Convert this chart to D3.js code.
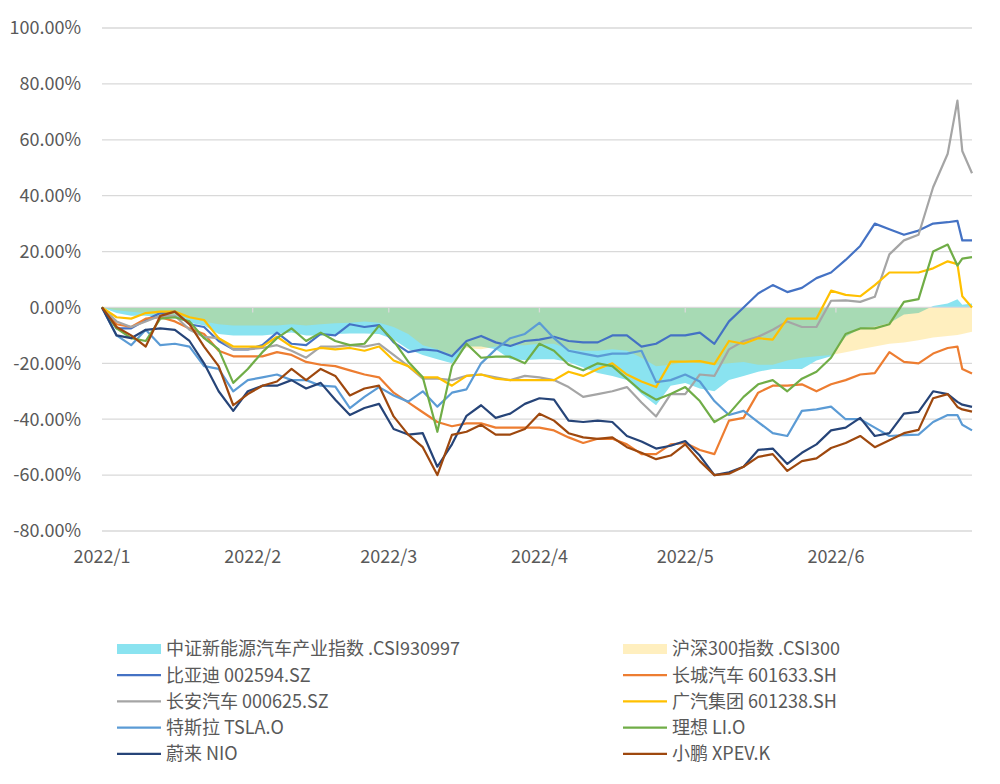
<!DOCTYPE html>
<html>
<head>
<meta charset="utf-8">
<script src="https://cdn.jsdelivr.net/npm/d3@7"></script>
<style>
  body { margin: 0; background: #fff; }
  text { font-family: "Noto Sans CJK SC", "Noto Sans", sans-serif; }
</style>
</head>
<body>
<div id="chart"></div>
<script>
// Sample dates (every ~3 days)
const dates = [
  "2022-01-01","2022-01-04","2022-01-07","2022-01-10","2022-01-13","2022-01-16","2022-01-19","2022-01-22","2022-01-25","2022-01-28","2022-01-31",
  "2022-02-03","2022-02-06","2022-02-09","2022-02-12","2022-02-15","2022-02-18","2022-02-21","2022-02-24","2022-02-27",
  "2022-03-02","2022-03-05","2022-03-08","2022-03-11","2022-03-14","2022-03-17","2022-03-20","2022-03-23","2022-03-26","2022-03-29",
  "2022-04-01","2022-04-04","2022-04-07","2022-04-10","2022-04-13","2022-04-16","2022-04-19","2022-04-22","2022-04-25","2022-04-28",
  "2022-05-01","2022-05-04","2022-05-07","2022-05-10","2022-05-13","2022-05-16","2022-05-19","2022-05-22","2022-05-25","2022-05-28","2022-05-31",
  "2022-06-03","2022-06-06","2022-06-09","2022-06-12","2022-06-15","2022-06-18","2022-06-21","2022-06-24",
  "2022-06-26","2022-06-27","2022-06-29"
];

// Index series (areas), % change
const csi930997 = [0,-2,-3,-3,-3.5,-4,-5.5,-6.5,-9.5,-10,-10,
  -10,-9.5,-9,-10,-10,-9.5,-9.3,-9.3,-9.5,
  -11.5,-15,-17,-18.5,-20,-14,-14,-15,-18.5,-18.8,
  -18.5,-18.5,-19.5,-21.5,-23.5,-24.5,-26,-31,-35,-28,
  -27,-29,-30,-26,-24.5,-23,-22,-22,-22,-19,-17.5,
  -10.5,-7.5,-6.9,-5.7,-2.5,-2,0.5,1.4,
  2.9,1,1.4];
const csi300 = [0,-1,-1.5,-2,-2.5,-3,-4,-5,-6,-6.5,-6.5,
  -6.5,-6.5,-6,-6.5,-6,-5.7,-5.5,-5,-5.5,
  -7,-9.5,-13.5,-15,-17,-14.5,-15,-14,-13.5,-13.5,
  -13,-13,-15,-15.5,-15.5,-15,-15.5,-18,-21,-20.5,
  -19.5,-20,-20.5,-20,-19.5,-20.5,-20.5,-19,-18,-17.5,-17,
  -16,-15,-14,-13,-12.5,-11.7,-10.8,-10.2,
  -9.9,-9.5,-8.7];

// Stock series (lines), % change
const byd = [0,-7.5,-7.5,-4.5,-2,-1.5,-6,-7,-12,-15,-15,
  -13.5,-9,-13,-13.5,-9.5,-10,-6,-7,-6.3,
  -12.5,-16,-15,-15.5,-17.5,-12,-10.2,-12.5,-13.8,-12,
  -11.5,-10.5,-12,-12.5,-12.5,-10,-10,-14,-13,-10,
  -10,-9,-13,-5,0,5,8,5.5,7,10.5,12.5,
  17,22,30,28,26,27.5,30,30.5,
  31,24,24];
const greatWall = [0,-6,-7,-4,-3.5,-5,-7.5,-9.5,-15.5,-17.5,-17.5,
  -17.5,-16,-17,-19.5,-20.5,-21,-22.5,-24,-25,
  -30.5,-34,-37.5,-41,-42.5,-41.5,-41.5,-43,-43,-43,
  -43,-44,-46.5,-48.5,-47,-47,-49,-52.5,-52.5,-49,
  -48.5,-51,-52.5,-40.5,-39.5,-30.5,-28,-28,-27.5,-30,-27.5,
  -26,-24,-23.5,-16,-19.5,-20,-16.5,-14.5,
  -14,-22,-23.6];
const changan = [0,-5,-7,-5,-3,-3,-8,-10.5,-11,-15,-15,
  -14.5,-13.5,-15.5,-18,-14,-14,-13.5,-14,-13,
  -17,-21,-25.5,-25.5,-26,-24.5,-24,-25,-26,-24.5,
  -25,-26,-28.5,-32,-31,-30,-28.5,-34,-39,-31,
  -31,-24,-24.5,-15,-12,-10.5,-8,-5,-7,-7,2.4,
  2.5,2,3.8,19,24,26,43,55,
  74,56,48];
const gac = [0,-3.5,-4,-2,-1.5,-1.5,-3.5,-4.5,-11,-14,-14,
  -14,-10.5,-14,-15.5,-14.5,-15,-14.5,-15.5,-14,
  -19,-21,-25,-25,-28,-24.5,-24,-25.5,-26,-26,
  -26,-26,-23,-24.5,-22,-20,-24,-26.5,-28.5,-19.4,
  -19.4,-19.2,-20.3,-12,-13,-11,-11.5,-4,-4,-4,6,
  4.5,4,8,12.5,12.5,12.5,14,16.5,
  15.5,4,0];
const tesla = [0,-10,-13.5,-8,-13.5,-13,-14,-21,-22,-30,-26,
  -25,-24,-26,-26,-28,-28.3,-36,-32,-28.5,
  -31.5,-33.7,-30,-35.5,-30.5,-29.3,-20,-15,-11,-9.5,
  -5.5,-11,-15.5,-16.5,-17.5,-16.5,-16.5,-15.5,-26.7,-26,
  -24,-26.5,-33.5,-38.5,-37,-41,-45,-46,-37,-36.5,-35.5,
  -40,-40,-43,-46,-45.7,-45.5,-41,-38.5,
  -38.5,-42,-44];
const liAuto = [0,-7.5,-11,-12,-4,-3.5,-5,-11,-15,-27,-22,
  -16,-11,-7.5,-12,-9,-12,-13.5,-13,-6.5,
  -12,-19.4,-25,-44.5,-21,-13,-18,-17.6,-17.6,-20,
  -13,-15.5,-20.5,-22.5,-20,-21,-25.5,-30,-33,-31,
  -28.5,-33.5,-41,-38,-32,-27.5,-26,-30,-25.5,-23,-18,
  -9.5,-7.5,-7.5,-6,2,3,20,22.5,
  15,17.5,18];
const nio = [0,-10,-11,-8,-7.5,-8,-12,-20,-30,-37,-30,
  -28,-28,-26,-29,-27,-33,-38.5,-36,-34.5,
  -43.5,-45.5,-45,-57,-49,-38.8,-35,-39.5,-38,-34.5,
  -32.5,-33,-40.5,-41,-40.5,-41,-46,-48,-50.5,-49.5,
  -47.8,-53,-60,-59,-57,-51,-50.5,-56,-52,-49,-44,
  -43,-39.5,-46,-45,-38,-37.4,-30,-31,
  -33.8,-34.8,-35.6];
const xpev = [0,-7,-10,-14,-3,-1.5,-6,-14,-21,-35,-31,
  -28,-26.5,-22,-26,-22,-24.5,-31.5,-29,-28,
  -39,-45.5,-50,-60,-45.6,-44.5,-42,-45.5,-45.5,-43.5,
  -38,-40.5,-45,-46.5,-47,-46.5,-50,-52,-54.3,-53,
  -49,-55,-60,-59.5,-57,-53.5,-52.5,-58.5,-55,-54,-50.3,
  -48.5,-46,-50,-47.5,-45,-43.8,-32.5,-31,
  -35.6,-36.5,-37.3];

const yTicks = [100, 80, 60, 40, 20, 0, -20, -40, -60, -80];
const monthTicks = ["2022-01-01","2022-02-01","2022-03-01","2022-04-01","2022-05-01","2022-06-01"];

const areaSeries = [
  { name: "中证新能源汽车产业指数 .CSI930997", values: csi930997, color: "#8ae3f0", opacity: 1 },
  { name: "沪深300指数 .CSI300", values: csi300, color: "#ffc000", opacity: 0.25 }
];
const lineSeries = [
  { name: "比亚迪 002594.SZ", values: byd, color: "#4472c4" },
  { name: "长城汽车 601633.SH", values: greatWall, color: "#ed7d31" },
  { name: "长安汽车 000625.SZ", values: changan, color: "#a5a5a5" },
  { name: "广汽集团 601238.SH", values: gac, color: "#ffc000" },
  { name: "特斯拉 TSLA.O", values: tesla, color: "#5b9bd5" },
  { name: "理想 LI.O", values: liAuto, color: "#70ad47" },
  { name: "蔚来 NIO", values: nio, color: "#264478" },
  { name: "小鹏 XPEV.K", values: xpev, color: "#9e480e" }
];

const W = 1000, H = 784;
const fontSize = '18px';
const parse = d3.timeParse("%Y-%m-%d");
const dateObjs = dates.map(parse);

const svg = d3.select('#chart').append('svg')
  .attr('width', W).attr('height', H);

const x = d3.scaleTime()
  .domain([parse("2022-01-01"), parse("2022-06-29")])
  .range([102, 972]);
const y = d3.scaleLinear()
  .domain([-80, 100])
  .range([531, 28]);

// Gridlines
svg.append('g')
  .selectAll('line')
  .data(yTicks.filter(t => t !== 0))
  .enter().append('line')
  .attr('x1', 102).attr('x2', 972)
  .attr('y1', d => y(d)).attr('y2', d => y(d))
  .attr('stroke', '#d9d9d9').attr('stroke-width', 1.3);

// Y labels
svg.append('g')
  .selectAll('text')
  .data(yTicks)
  .enter().append('text')
  .attr('x', 81)
  .attr('y', d => y(d))
  .attr('dy', '0.35em')
  .attr('text-anchor', 'end')
  .style('font-size', fontSize)
  .style('fill', '#595959')
  .text(d => d.toFixed(2) + '%');

// Areas
areaSeries.forEach(s => {
  const area = d3.area()
    .x((d, i) => x(dateObjs[i]))
    .y0(y(0))
    .y1(d => y(d));
  svg.append('path')
    .datum(s.values)
    .attr('d', area)
    .attr('fill', s.color)
    .attr('fill-opacity', s.opacity);
});

// Zero axis line and month ticks
svg.append('line')
  .attr('x1', 102).attr('x2', 972)
  .attr('y1', y(0)).attr('y2', y(0))
  .attr('stroke', '#d9d9d9').attr('stroke-width', 1.3);
svg.append('g')
  .selectAll('line')
  .data(monthTicks.slice(1).map(parse))
  .enter().append('line')
  .attr('x1', d => x(d)).attr('x2', d => x(d))
  .attr('y1', y(0)).attr('y2', y(0) + 5)
  .attr('stroke', '#d9d9d9').attr('stroke-width', 1.3);

// X labels
svg.append('g')
  .selectAll('text')
  .data(monthTicks)
  .enter().append('text')
  .attr('x', d => x(parse(d)))
  .attr('y', 557)
  .attr('dy', '0.35em')
  .attr('text-anchor', 'middle')
  .style('font-size', fontSize)
  .style('fill', '#595959')
  .text(d => d3.timeFormat('%Y/')(parse(d)) + (parse(d).getMonth() + 1));

// Lines
const line = d3.line()
  .x((d, i) => x(dateObjs[i]))
  .y(d => y(d));
lineSeries.forEach(s => {
  svg.append('path')
    .datum(s.values)
    .attr('d', line)
    .attr('fill', 'none')
    .attr('stroke', s.color)
    .attr('stroke-width', 2.2)
    .attr('stroke-linejoin', 'round');
});

// Legend
const legendItems = [
  { ...areaSeries[0], type: 'area' }, { ...areaSeries[1], type: 'area' },
  ...lineSeries.map(s => ({ ...s, type: 'line' }))
];
const legend = svg.append('g');
legendItems.forEach((s, i) => {
  const col = i % 2, row = Math.floor(i / 2);
  const lx = col === 0 ? 117 : 623;
  const ly = 649 + row * 26.2;
  if (s.type === 'area') {
    legend.append('rect')
      .attr('x', lx).attr('y', ly - 5)
      .attr('width', 44).attr('height', 10)
      .attr('fill', s.color)
      .attr('fill-opacity', s.opacity);
  } else {
    legend.append('line')
      .attr('x1', lx).attr('x2', lx + 44)
      .attr('y1', ly).attr('y2', ly)
      .attr('stroke', s.color).attr('stroke-width', 2.2);
  }
  legend.append('text')
    .attr('x', lx + 49)
    .attr('y', ly)
    .attr('dy', '0.35em')
    .style('font-size', fontSize)
    .style('fill', '#595959')
    .text(s.name);
});
</script>
</body>
</html>
